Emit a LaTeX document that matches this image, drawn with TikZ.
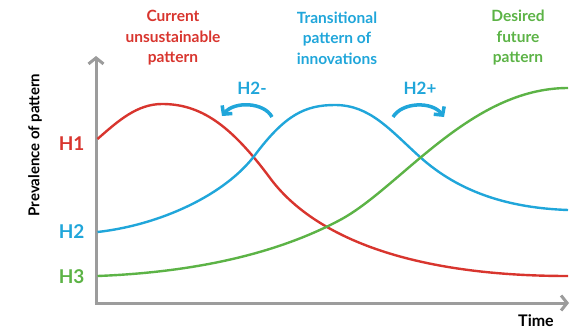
\documentclass[tikz,border=0pt]{standalone}
\usepackage{fontspec}
\setmainfont{Lato}
\usepackage{xcolor}
\usetikzlibrary{arrows.meta}
\definecolor{hred}{HTML}{D8352E}
\definecolor{hblue}{HTML}{20A6DA}
\definecolor{hgreen}{HTML}{5CB346}
\definecolor{axisgray}{HTML}{9C9C9C}

\begin{document}
\begin{tikzpicture}[x=1pt,y=-1pt,
    axis/.style={line width=3pt, axisgray, -{Straight Barb[length=6pt,width=15pt]}},
    curve/.style={line width=2.4pt},
    hlabel/.style={font=\bfseries\fontsize{19}{20}\selectfont, anchor=east},
    heading/.style={font=\bfseries\fontsize{15.5}{20.5}\selectfont, align=center},
    shiftarrow/.style={line width=3.5pt, hblue, -{Straight Barb[length=6pt,width=13pt]}}]
    \useasboundingbox (0,0) rectangle (572,329);

    % Axes
    \coordinate (origin) at (96,303);
    \coordinate (ytop) at (96,56);
    \coordinate (xend) at (569,303);
    \draw[axis] (origin) -- (ytop);
    \draw[axis] ([xshift=-1.5pt]origin) -- (xend);
    \node[font=\bfseries\fontsize{15}{17}\selectfont, rotate=90] (prevalence) at (35,145) {Prevalence of pattern};
    \node[font=\bfseries\fontsize{16}{18}\selectfont] (time) at (536,321) {Time};

    % Headings
    \node[heading, hred] (current) at (173,38) {Current\\unsustainable\\pattern};
    \node[heading, hblue] (transitional) at (337,38) {Transitional\\pattern of\\innovations};
    \node[heading, hgreen] (desired) at (518,38) {Desired\\future\\pattern};

    % H1 (red)
    \node[hlabel, hred] (h1) at (88,144) {H1};
    \draw[curve, hred] (97.5,139) .. controls (118,121) and (137,104) .. (162,104)
        .. controls (200,104) and (230,124) .. (270,178)
        .. controls (310,232) and (400,276) .. (568,276);

    % H2 (blue)
    \node[hlabel, hblue] (h2) at (88,232) {H2};
    \draw[curve, hblue] (97.5,232) .. controls (160,225) and (225,195) .. (255,155)
        .. controls (285,115) and (305,105) .. (335,105)
        .. controls (370,105) and (390,130) .. (420,157)
        .. controls (460,193) and (510,208) .. (568,210);

    % H3 (green)
    \node[hlabel, hgreen] (h3) at (88,277) {H3};
    \draw[curve, hgreen] (97.5,276) .. controls (200,272) and (280,252) .. (340,220)
        .. controls (400,188) and (470,88) .. (568,88);

    % Shifts between patterns
    \node[font=\bfseries\fontsize{17}{18}\selectfont, hblue] (h2minus) at (252,88) {H2-};
    \coordinate (minusstart) at (272,117);
    \coordinate (minusend) at (222,116);
    \draw[shiftarrow] (minusstart) .. controls (264,102) and (234,101) .. (minusend);

    \node[font=\bfseries\fontsize{17}{18}\selectfont, hblue] (h2plus) at (420,88) {H2+};
    \coordinate (plusstart) at (393,117);
    \coordinate (plusend) at (444,117);
    \draw[shiftarrow] (plusstart) .. controls (402,102) and (432,101) .. (plusend);
\end{tikzpicture}
\end{document}
